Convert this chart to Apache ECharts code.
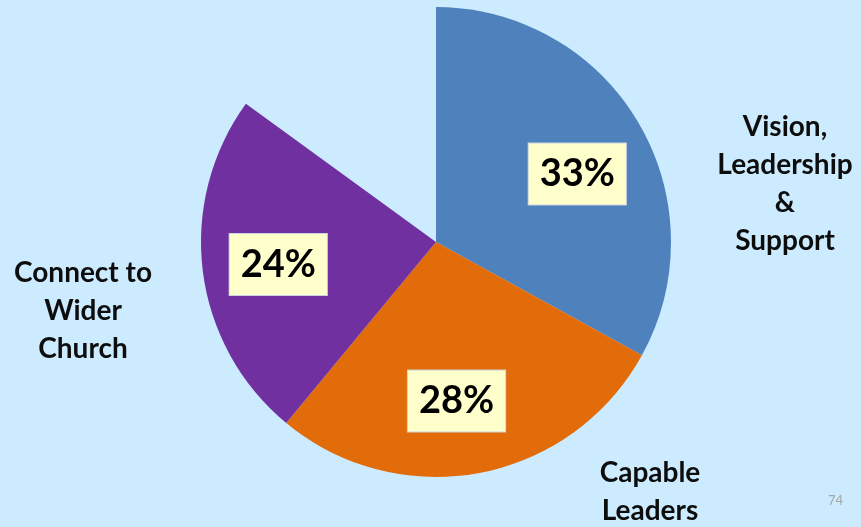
<!DOCTYPE html>
<html>
<head>
<meta charset="utf-8">
<script src="https://cdn.jsdelivr.net/npm/echarts@6/dist/echarts.min.js"></script>
<style>
  html, body { margin: 0; padding: 0; background: #CCEBFE; }
  #chart { width: 861px; height: 527px; }
</style>
</head>
<body>
<div id="chart"></div>
<script>
// Shares of responses per theme (percent of all answers)
const categories = ['Vision,\nLeadership\n&\nSupport', 'Capable\nLeaders', 'Connect to\nWider\nChurch'];
const shares = [33, 28, 24];
const sliceColors = ['#4F81BD', '#E36C0A', '#7030A0'];
const pageNumber = '74';

// The rest of the circle is left empty
const remainder = 100 - shares.reduce((a, b) => a + b, 0);

// Where the category names sit around the pie (pixels, text block centre)
const namePos = [[785, 184], [650, 492], [83, 311]];
// Small nudges for the percentage boxes
const pctNudge = [[1, 15], [-10, -1], [4, 2]];

const FONT = 'Lato, "Open Sans", sans-serif';
const CENTER = [436, 242];
const R = 235;

const sliceData = shares.map((v, i) => ({
  name: categories[i],
  value: v,
  itemStyle: { color: sliceColors[i] }
}));
const gap = {
  name: '',
  value: remainder,
  itemStyle: { color: 'rgba(0,0,0,0)' },
  label: { show: false },
  labelLine: { show: false }
};

const chart = echarts.init(document.getElementById('chart'), null, { renderer: 'canvas' });
chart.setOption({
  backgroundColor: '#CCEBFE',
  animation: false,
  graphic: [{
    type: 'text',
    right: 18,
    top: 494,
    style: { text: pageNumber, fill: '#A6A6A6', font: '13px ' + FONT }
  }],
  series: [
    {
      // Slices with category names outside
      type: 'pie',
      center: CENTER,
      radius: [0, R],
      startAngle: 90,
      clockwise: true,
      avoidLabelOverlap: false,
      silent: true,
      emphasis: { disabled: true },
      label: {
        show: true,
        position: 'outside',
        formatter: '{b}',
        color: '#0D0D0D',
        fontFamily: FONT,
        fontWeight: 'bold',
        fontSize: 28,
        lineHeight: 38,
        align: 'center'
      },
      labelLine: { show: false },
      labelLayout: function (p) {
        const pos = namePos[p.dataIndex];
        if (!pos) return {};
        return { x: pos[0], y: pos[1], align: 'center', verticalAlign: 'middle' };
      },
      data: sliceData.concat([gap])
    },
    {
      // Transparent ring carrying the percentage boxes
      type: 'pie',
      center: CENTER,
      radius: [85, R],
      startAngle: 90,
      clockwise: true,
      avoidLabelOverlap: false,
      silent: true,
      emphasis: { disabled: true },
      itemStyle: { color: 'rgba(0,0,0,0)' },
      label: {
        show: true,
        position: 'inside',
        formatter: '{c}%',
        color: '#000000',
        fontFamily: FONT,
        fontWeight: 'bold',
        fontSize: 38,
        lineHeight: 42,
        backgroundColor: '#FFFFCC',
        borderColor: '#C9D3DF',
        borderWidth: 1,
        padding: [10, 11, 9, 11]
      },
      labelLine: { show: false },
      labelLayout: function (p) {
        const n = pctNudge[p.dataIndex];
        if (!n) return {};
        return { dx: n[0], dy: n[1] };
      },
      data: shares.map((v, i) => ({
        name: categories[i],
        value: v,
        itemStyle: { color: 'rgba(0,0,0,0)' }
      })).concat([gap])
    }
  ]
});
</script>
</body>
</html>
